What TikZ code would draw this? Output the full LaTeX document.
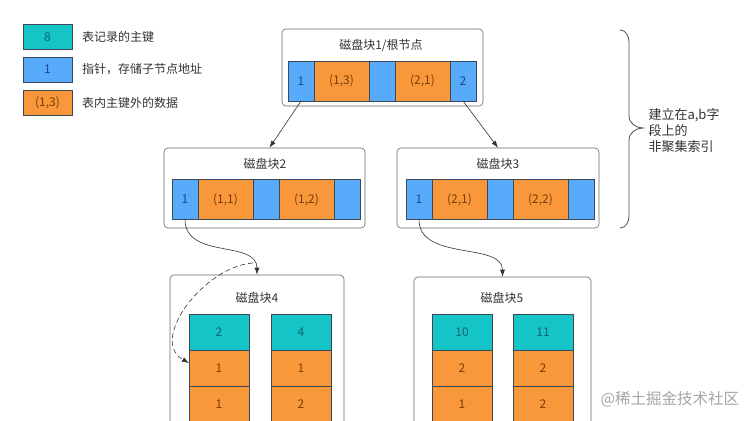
\documentclass[tikz,border=0pt]{standalone}
\usepackage{fontspec}
\setmainfont{Noto Sans CJK SC}
\usetikzlibrary{arrows.meta,positioning,calc}
\definecolor{keyc}{RGB}{20,196,198}
\definecolor{ptrc}{RGB}{88,170,250}
\definecolor{datc}{RGB}{249,152,58}
\definecolor{edgec}{RGB}{58,72,88}
\definecolor{keyt}{RGB}{14,100,112}
\definecolor{ptrt}{RGB}{25,70,140}
\definecolor{datt}{RGB}{120,60,10}
\definecolor{txtc}{RGB}{51,51,51}
\tikzset{
  >={Latex[length=7pt,width=5pt]},
  every node/.style={font=\fontsize{12}{14}\selectfont,text=txtc},
  cell/.style={draw=edgec,line width=0.6pt,inner sep=0pt,outer sep=0pt,minimum height=40pt},
  ptr/.style={cell,fill=ptrc,text=ptrt,minimum width=26pt},
  dat/.style={cell,fill=datc,text=datt,minimum width=55pt},
  leafc/.style={cell,minimum width=60pt,minimum height=36pt},
  lkey/.style={leafc,fill=keyc,text=keyt},
  ldat/.style={leafc,fill=datc,text=datt},
  disk/.style={draw=black!60,line width=0.6pt,rounded corners=4pt,fill=white,inner sep=0pt},
  legbox/.style={cell,minimum width=49pt,minimum height=25pt},
  legtxt/.style={anchor=west,inner sep=0pt},
  link/.style={->,draw=black!80,line width=0.6pt},
  bracec/.style={draw=black!70,line width=0.8pt},
}
\begin{document}
\begin{tikzpicture}[x=1pt,y=-1pt]
  \clip (0,0) rectangle (754,420);
  \fill[white] (0,0) rectangle (754,420);

  % ---------------- legend
  \node[legbox,fill=keyc,text=keyt] (Lk) at (47.5,37) {8};
  \node[legtxt,right=10pt of Lk] (Lkt) {表记录的主键};
  \node[legbox,fill=ptrc,text=ptrt] (Lp) at (47.5,69.5) {1};
  \node[legtxt,right=10pt of Lp] (Lpt) {指针，存储子节点地址};
  \node[legbox,fill=datc,text=datt] (Ld) at (47.5,102.5) {(1,3)};
  \node[legtxt,right=10pt of Ld] (Ldt) {表内主键外的数据};

  % ---------------- disk blocks
  \node[disk,minimum width=201pt,minimum height=77pt] (B1) at (382.5,67.5) {};
  \node[disk,minimum width=201pt,minimum height=80pt] (B2) at (264.5,188) {};
  \node[disk,minimum width=202pt,minimum height=80pt] (B3) at (498,188) {};
  \node[disk,minimum width=174pt,minimum height=165pt] (B4) at (257,357.5) {};
  \node[disk,minimum width=177pt,minimum height=163pt] (B5) at (502.5,358.5) {};
  \node (T1) at (381,45)  {磁盘块1/根节点};
  \node (T2) at (265,164) {磁盘块2};
  \node (T3) at (498,164) {磁盘块3};
  \node (T4) at (257,298) {磁盘块4};
  \node (T5) at (502,298) {磁盘块5};

  % ---------------- root
  \node[ptr] (R1) at (301,81) {1};
  \node[dat,right=0pt of R1] (R2) {(1,3)};
  \node[ptr,right=0pt of R2] (R3) {};
  \node[dat,right=0pt of R3] (R4) {(2,1)};
  \node[ptr,right=0pt of R4] (R5) {2};

  % ---------------- block 2
  \node[ptr] (C21) at (185,199.5) {1};
  \node[dat,right=0pt of C21] (C22) {(1,1)};
  \node[ptr,right=0pt of C22] (C23) {};
  \node[dat,right=0pt of C23] (C24) {(1,2)};
  \node[ptr,right=0pt of C24] (C25) {};

  % ---------------- block 3
  \node[ptr] (C31) at (419,199.5) {1};
  \node[dat,right=0pt of C31] (C32) {(2,1)};
  \node[ptr,right=0pt of C32] (C33) {};
  \node[dat,right=0pt of C33] (C34) {(2,2)};
  \node[ptr,right=0pt of C34] (C35) {};

  % ---------------- leaves
  \node[lkey] (L4a) at (219,332) {2};
  \node[ldat,below=0pt of L4a] (L4b) {1};
  \node[ldat,below=0pt of L4b] (L4c) {1};
  \node[lkey] (M4a) at (301,332) {4};
  \node[ldat,below=0pt of M4a] (M4b) {1};
  \node[ldat,below=0pt of M4b] (M4c) {2};
  \node[lkey] (L5a) at (462,332) {10};
  \node[ldat,below=0pt of L5a] (L5b) {2};
  \node[ldat,below=0pt of L5b] (L5c) {1};
  \node[lkey] (M5a) at (543,332) {11};
  \node[ldat,below=0pt of M5a] (M5b) {2};
  \node[ldat,below=0pt of M5b] (M5c) {2};

  % ---------------- links
  \draw[link] (R1.south) -- ([xshift=5pt]B2.north);
  \draw[link] (R5.south) -- (B3.north);
  \draw[link] (C21.south) .. controls +(0,40) and +(0,-35) .. (B4.north);
  \draw[link] (C31.south) .. controls +(0,42) and +(0,-35) .. (B5.north);
  \coordinate (dsrc) at (253,263);
  \draw[link,dash pattern=on 5pt off 3pt] (dsrc) .. controls (205,266) and (148,340) .. ([yshift=5pt]L4b.west);

  % ---------------- brace
  \draw[bracec] (620,30) to[out=0,in=90] (629,42) -- (629,116) to[out=-90,in=180] (643,128)
    to[out=180,in=90] (629,140) -- (629,216) to[out=-90,in=0] (620,228);
  \node[anchor=west,align=left,font=\fontsize{13}{16}\selectfont] (idx) at (645,131) {建立在a,b字\\段上的\\非聚集索引};

  \node[anchor=west,text=black!35,font=\fontsize{15.5}{18}\selectfont] (wm) at (597,399) {@稀土掘金技术社区};
\end{tikzpicture}
\end{document}
